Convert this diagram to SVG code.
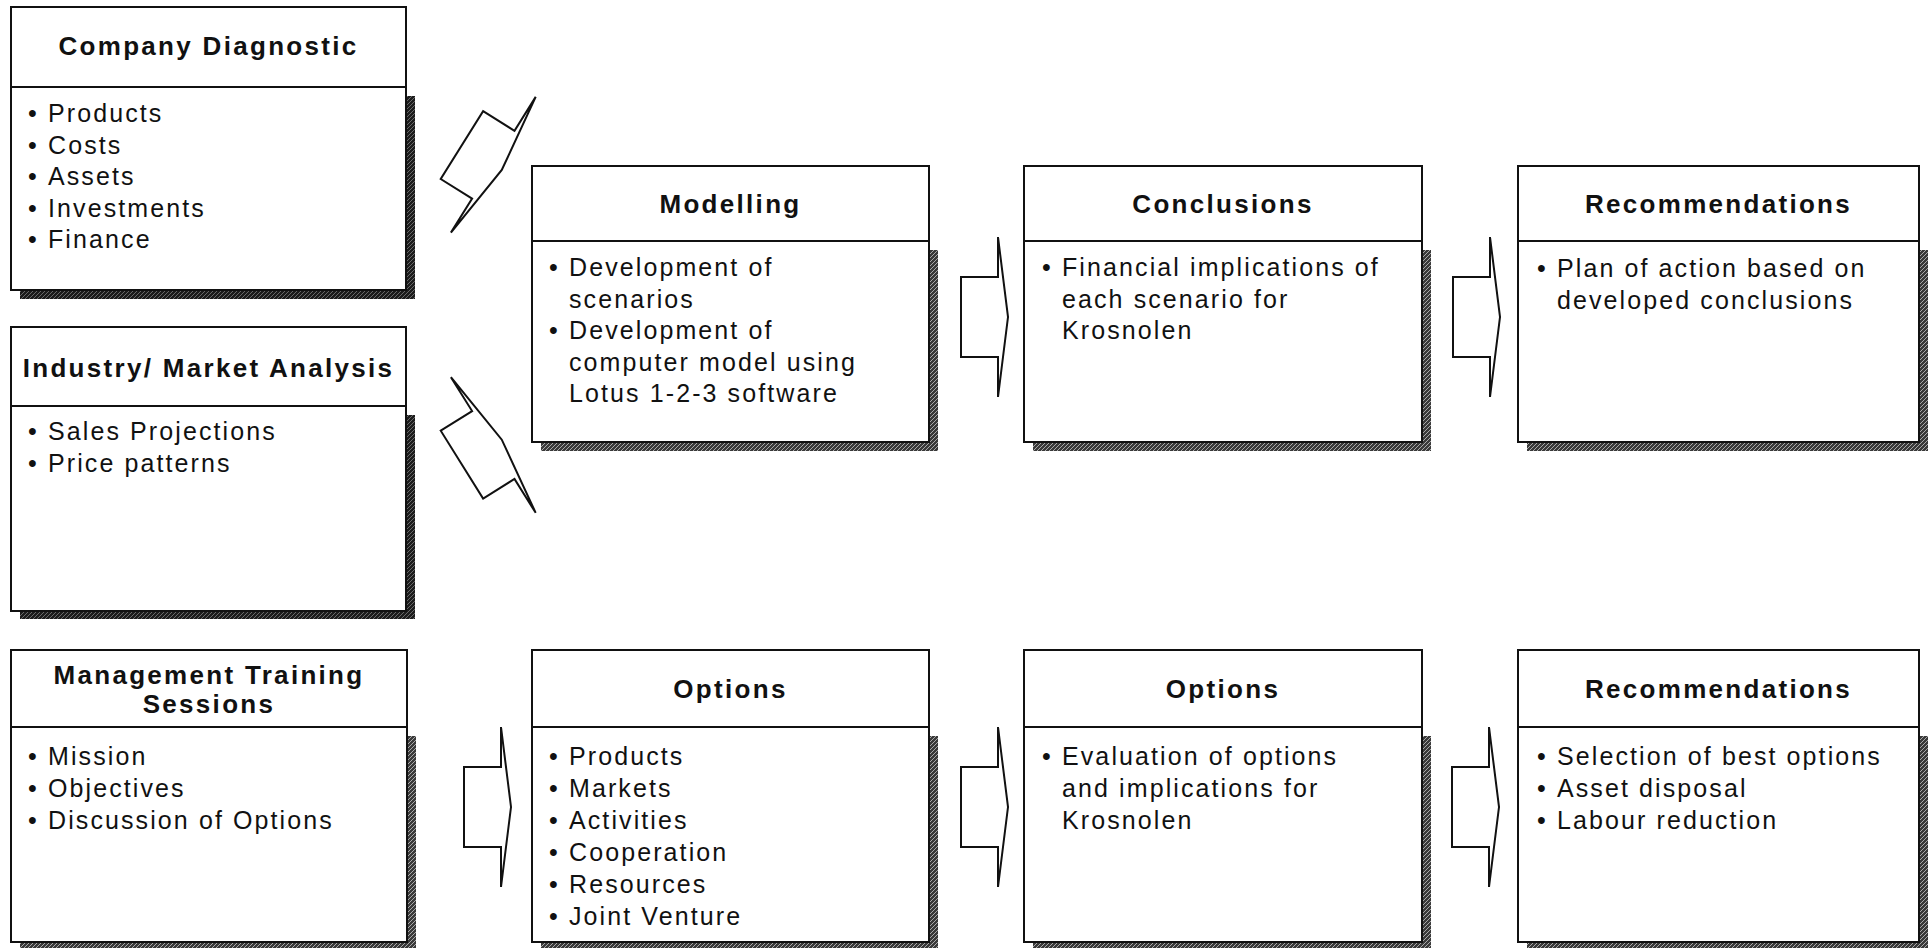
<svg xmlns="http://www.w3.org/2000/svg" xmlns:xlink="http://www.w3.org/1999/xlink" width="1928" height="948" viewBox="0 0 1928 948">
  <style>
    .frame { fill: #ffffff; stroke: #111111; stroke-width: 2; }
    .divider { stroke: #111111; stroke-width: 2; }
    .shadow { fill: url(#hatch); }
    .shadow-light { fill: url(#hatchLight); }
    .title { font-family: "Liberation Sans", Arial, Helvetica, sans-serif; font-weight: bold; font-size: 26px; letter-spacing: 2.3px; text-anchor: middle; fill: #111111; }
    .item { font-family: "Liberation Sans", Arial, Helvetica, sans-serif; font-size: 25px; letter-spacing: 2.1px; fill: #111111; }
    .arrow { fill: #ffffff; stroke: #111111; stroke-width: 2; stroke-linejoin: miter; }
  </style>
  <defs>
    <pattern id="hatch" width="4" height="4" patternUnits="userSpaceOnUse">
      <rect width="4" height="4" fill="#1c1c1c"/>
      <path d="M0,4 L4,0" stroke="#8a8a8a" stroke-width="0.7"/>
    </pattern>
    <pattern id="hatchLight" width="4" height="4" patternUnits="userSpaceOnUse">
      <rect width="4" height="4" fill="#3a3a3a"/>
      <path d="M0,4 L4,0" stroke="#b5b5b5" stroke-width="0.9"/>
    </pattern>
    <!-- block arrow: short body, tall thin head; head base at origin, pointing +x -->
    <path id="blockArrow" d="M-37,-40 H0 V-80 L10,0 L0,80 V40 H-37 Z"/>
  </defs>

  <rect width="1928" height="948" fill="#ffffff"/>

  <!-- Left column -->
  <g id="company-diagnostic">
    <rect class="shadow" x="20" y="96" width="395" height="203"/>
    <rect class="frame" x="11" y="7" width="395" height="283"/>
    <line class="divider" x1="11" y1="87" x2="406" y2="87"/>
    <text class="title" x="208.5" y="55">Company Diagnostic</text>
    <text class="item"><tspan x="28" y="122">•</tspan><tspan x="48" y="122">Products</tspan></text>
    <text class="item"><tspan x="28" y="153.5">•</tspan><tspan x="48" y="153.5">Costs</tspan></text>
    <text class="item"><tspan x="28" y="185">•</tspan><tspan x="48" y="185">Assets</tspan></text>
    <text class="item"><tspan x="28" y="216.5">•</tspan><tspan x="48" y="216.5">Investments</tspan></text>
    <text class="item"><tspan x="28" y="248">•</tspan><tspan x="48" y="248">Finance</tspan></text>
  </g>

  <g id="industry-market-analysis">
    <rect class="shadow" x="20" y="415" width="395" height="204"/>
    <rect class="frame" x="11" y="327" width="395" height="284"/>
    <line class="divider" x1="11" y1="406" x2="406" y2="406"/>
    <text class="title" x="208.5" y="377">Industry/ Market Analysis</text>
    <text class="item"><tspan x="28" y="440">•</tspan><tspan x="48" y="440">Sales Projections</tspan></text>
    <text class="item"><tspan x="28" y="472">•</tspan><tspan x="48" y="472">Price patterns</tspan></text>
  </g>

  <g id="management-training">
    <rect class="shadow-light" x="20" y="736" width="396" height="215"/>
    <rect class="frame" x="11" y="650" width="396" height="292"/>
    <line class="divider" x1="11" y1="727" x2="407" y2="727"/>
    <text class="title" x="209" y="684">Management Training</text>
    <text class="title" x="209" y="713">Sessions</text>
    <text class="item"><tspan x="28" y="765">•</tspan><tspan x="48" y="765">Mission</tspan></text>
    <text class="item"><tspan x="28" y="797">•</tspan><tspan x="48" y="797">Objectives</tspan></text>
    <text class="item"><tspan x="28" y="829">•</tspan><tspan x="48" y="829">Discussion of Options</tspan></text>
  </g>

  <!-- Top row -->
  <g id="modelling">
    <rect class="shadow-light" x="541" y="250" width="397" height="201"/>
    <rect class="frame" x="532" y="166" width="397" height="276"/>
    <line class="divider" x1="532" y1="241" x2="929" y2="241"/>
    <text class="title" x="730.5" y="213">Modelling</text>
    <text class="item"><tspan x="549" y="276">•</tspan><tspan x="569" y="276">Development of</tspan></text>
    <text class="item" x="569" y="307.5">scenarios</text>
    <text class="item"><tspan x="549" y="339">•</tspan><tspan x="569" y="339">Development of</tspan></text>
    <text class="item" x="569" y="370.5">computer model using</text>
    <text class="item" x="569" y="402">Lotus 1-2-3 software</text>
  </g>

  <g id="conclusions">
    <rect class="shadow-light" x="1033" y="250" width="398" height="201"/>
    <rect class="frame" x="1024" y="166" width="398" height="276"/>
    <line class="divider" x1="1024" y1="241" x2="1422" y2="241"/>
    <text class="title" x="1223" y="213">Conclusions</text>
    <text class="item"><tspan x="1042" y="276">•</tspan><tspan x="1062" y="276">Financial implications of</tspan></text>
    <text class="item" x="1062" y="307.5">each scenario for</text>
    <text class="item" x="1062" y="339">Krosnolen</text>
  </g>

  <g id="recommendations-top">
    <rect class="shadow-light" x="1527" y="250" width="401" height="201"/>
    <rect class="frame" x="1518" y="166" width="401" height="276"/>
    <line class="divider" x1="1518" y1="241" x2="1919" y2="241"/>
    <text class="title" x="1718.5" y="213">Recommendations</text>
    <text class="item"><tspan x="1537" y="277">•</tspan><tspan x="1557" y="277">Plan of action based on</tspan></text>
    <text class="item" x="1557" y="308.5">developed conclusions</text>
  </g>

  <!-- Bottom row -->
  <g id="options-list">
    <rect class="shadow-light" x="541" y="736" width="397" height="215"/>
    <rect class="frame" x="532" y="650" width="397" height="292"/>
    <line class="divider" x1="532" y1="727" x2="929" y2="727"/>
    <text class="title" x="730.5" y="698">Options</text>
    <text class="item"><tspan x="549" y="765">•</tspan><tspan x="569" y="765">Products</tspan></text>
    <text class="item"><tspan x="549" y="797">•</tspan><tspan x="569" y="797">Markets</tspan></text>
    <text class="item"><tspan x="549" y="829">•</tspan><tspan x="569" y="829">Activities</tspan></text>
    <text class="item"><tspan x="549" y="861">•</tspan><tspan x="569" y="861">Cooperation</tspan></text>
    <text class="item"><tspan x="549" y="893">•</tspan><tspan x="569" y="893">Resources</tspan></text>
    <text class="item"><tspan x="549" y="925">•</tspan><tspan x="569" y="925">Joint Venture</tspan></text>
  </g>

  <g id="options-evaluation">
    <rect class="shadow-light" x="1033" y="736" width="398" height="215"/>
    <rect class="frame" x="1024" y="650" width="398" height="292"/>
    <line class="divider" x1="1024" y1="727" x2="1422" y2="727"/>
    <text class="title" x="1223" y="698">Options</text>
    <text class="item"><tspan x="1042" y="765">•</tspan><tspan x="1062" y="765">Evaluation of options</tspan></text>
    <text class="item" x="1062" y="797">and implications for</text>
    <text class="item" x="1062" y="829">Krosnolen</text>
  </g>

  <g id="recommendations-bottom">
    <rect class="shadow-light" x="1527" y="736" width="401" height="215"/>
    <rect class="frame" x="1518" y="650" width="401" height="292"/>
    <line class="divider" x1="1518" y1="727" x2="1919" y2="727"/>
    <text class="title" x="1718.5" y="698">Recommendations</text>
    <text class="item"><tspan x="1537" y="765">•</tspan><tspan x="1557" y="765">Selection of best options</tspan></text>
    <text class="item"><tspan x="1537" y="797">•</tspan><tspan x="1557" y="797">Asset disposal</tspan></text>
    <text class="item"><tspan x="1537" y="829">•</tspan><tspan x="1557" y="829">Labour reduction</tspan></text>
  </g>

  <!-- Connectors -->
  <g id="connectors">
    <use class="arrow" xlink:href="#blockArrow" href="#blockArrow" transform="translate(493.3,164.7) rotate(32)"/>
    <use class="arrow" xlink:href="#blockArrow" href="#blockArrow" transform="translate(493.3,445) rotate(-32)"/>
    <use class="arrow" xlink:href="#blockArrow" href="#blockArrow" transform="translate(998,317)"/>
    <use class="arrow" xlink:href="#blockArrow" href="#blockArrow" transform="translate(1490,317)"/>
    <use class="arrow" xlink:href="#blockArrow" href="#blockArrow" transform="translate(501,807)"/>
    <use class="arrow" xlink:href="#blockArrow" href="#blockArrow" transform="translate(998,807)"/>
    <use class="arrow" xlink:href="#blockArrow" href="#blockArrow" transform="translate(1489,807)"/>
  </g>
</svg>
